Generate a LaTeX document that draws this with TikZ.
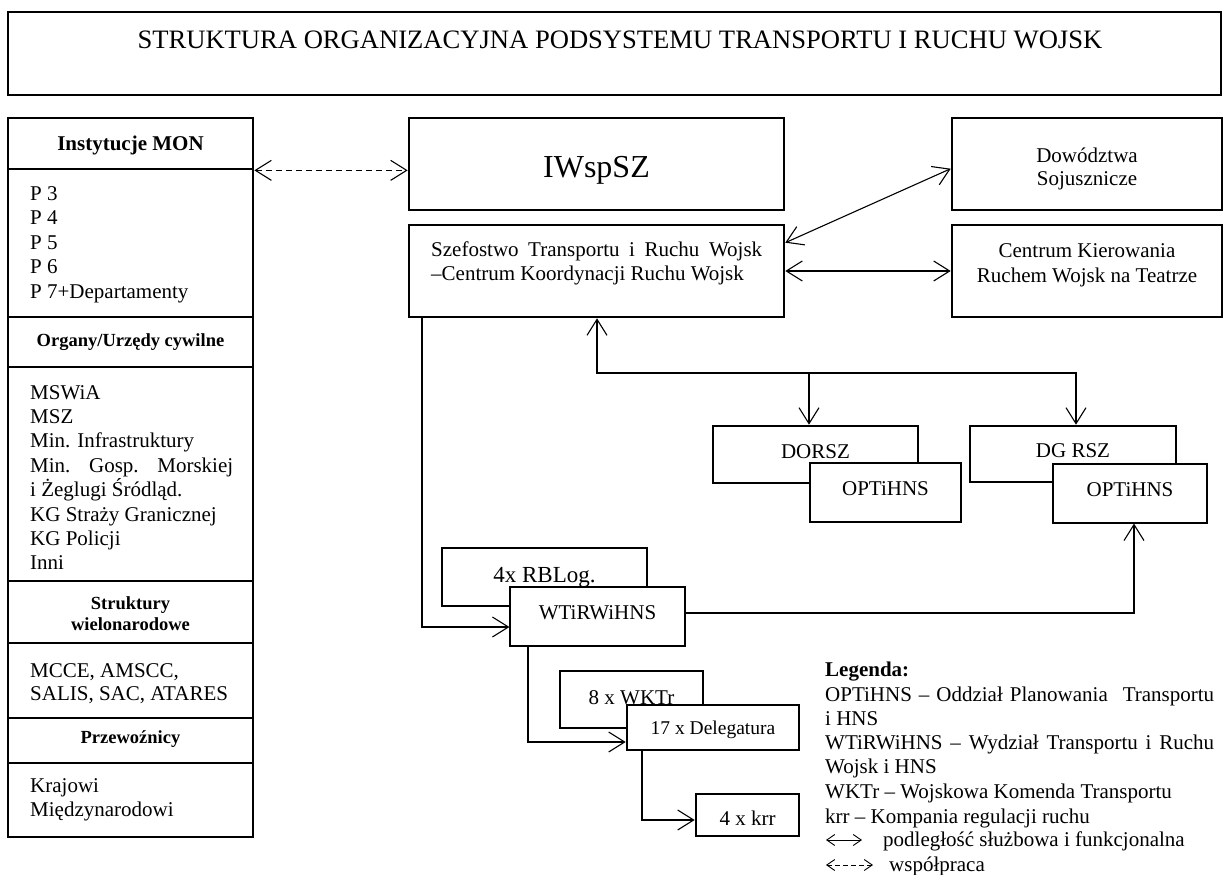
\documentclass[tikz,border=0pt]{standalone}
\usepackage{fontspec}
\setmainfont{Liberation Serif}
\usetikzlibrary{arrows.meta,calc}
\begin{document}
\begin{tikzpicture}[x=1pt,y=-1pt,
  thickbox/.style={draw,line width=2.6pt,rectangle,inner sep=0pt,fill=white,font=\fontsize{21}{24.5}\selectfont,text depth=0pt},
  thinbox/.style={draw,line width=1.1pt,rectangle,inner sep=0pt,fill=white,font=\fontsize{21}{24.5}\selectfont,text depth=0pt},
  colbox/.style={draw,line width=2.7pt,rectangle,inner sep=0pt,minimum width=245pt},
  lt/.style={inner sep=0pt,anchor=base west,font=\fontsize{21}{24.5}\selectfont},
  ct/.style={inner sep=0pt,anchor=base,font=\fontsize{21}{24.5}\selectfont},
  hd/.style={inner sep=0pt,anchor=base,font=\fontsize{18.5}{21}\selectfont\bfseries},
  conn/.style={line width=1.1pt},
  arr/.style={conn,-{Straight Barb[length=16pt,width=20pt]}},
  darr/.style={conn,{Straight Barb[length=16pt,width=20pt]}-{Straight Barb[length=16pt,width=20pt]}},
  sarr/.style={line width=0.9pt,{Straight Barb[length=8pt,width=11pt]}-{Straight Barb[length=8pt,width=11pt]}}
]
\path[use as bounding box] (0,0) rectangle (1224,875);

% title
\node[thickbox,minimum width=1213pt,minimum height=83pt] (title) at (614.5,53.5) {};
\node[ct,font=\fontsize{26.6}{30}\selectfont] (ttl) at (620,49) {STRUKTURA ORGANIZACYJNA PODSYSTEMU TRANSPORTU I RUCHU WOJSK};

% left column
\node[colbox,minimum height=51pt]  (L1) at (130.5,143.5) {};
\node[colbox,minimum height=148pt] (L2) at (130.5,243) {};
\node[colbox,minimum height=50pt]  (L3) at (130.5,342) {};
\node[colbox,minimum height=214pt] (L4) at (130.5,474) {};
\node[colbox,minimum height=62pt]  (L5) at (130.5,612) {};
\node[colbox,minimum height=75pt]  (L6) at (130.5,680.5) {};
\node[colbox,minimum height=45pt]  (L7) at (130.5,740.5) {};
\node[colbox,minimum height=74pt]  (L8) at (130.5,800) {};

\node[hd,font=\fontsize{21}{24.5}\selectfont\bfseries] (h1) at (130.5,150) {Instytucje MON};
\node[lt] (p3) at (30,200) {P 3};
\node[lt] (p4) at (30,224.5) {P 4};
\node[lt] (p5) at (30,249) {P 5};
\node[lt] (p6) at (30,273.5) {P 6};
\node[lt] (p7) at (30,298) {P 7+Departamenty};

\node[hd] (h2) at (130.5,346.5) {Organy/Urzędy cywilne};
\node[lt] (c1) at (30,399) {MSWiA};
\node[lt] (c2) at (30,423.4) {MSZ};
\node[lt] (c3) at (30,447.8) {Min. Infrastruktury};
\node[lt] (c4) at (30,472.2) {\makebox[203pt][s]{Min. Gosp. Morskiej}};
\node[lt] (c5) at (30,496.6) {i Żeglugi Śródląd.};
\node[lt] (c6) at (30,521) {KG Straży Granicznej};
\node[lt] (c7) at (30,545.4) {KG Policji};
\node[lt] (c8) at (30,569.8) {Inni};

\node[hd] (h3a) at (130.5,609) {Struktury};
\node[hd] (h3b) at (130.5,630) {wielonarodowe};
\node[lt] (m1) at (30,677) {MCCE, AMSCC,};
\node[lt] (m2) at (30,700.5) {SALIS, SAC, ATARES};

\node[hd] (h4) at (130.5,743) {Przewoźnicy};
\node[lt] (k1) at (30,792) {Krajowi};
\node[lt] (k2) at (30,816.5) {Międzynarodowi};

% main boxes
\node[thickbox,minimum width=375pt,minimum height=92pt,font=\fontsize{32}{36}\selectfont,text height=27pt] (iw) at (596.5,164) {IWspSZ};
\node[thickbox,minimum width=375pt,minimum height=92pt] (szef) at (596.5,271) {};
\node[lt] (sz1) at (431,256) {\makebox[331pt][s]{Szefostwo Transportu i Ruchu Wojsk}};
\node[lt] (sz2) at (431,280) {–Centrum Koordynacji Ruchu Wojsk};

\node[thickbox,minimum width=270pt,minimum height=92pt] (dow) at (1087,164) {};
\node[ct] (dw1) at (1087,162) {Dowództwa};
\node[ct] (dw2) at (1087,185) {Sojusznicze};

\node[thickbox,minimum width=270pt,minimum height=92pt] (cen) at (1087,271) {};
\node[ct] (ck1) at (1087,257) {Centrum Kierowania};
\node[ct] (ck2) at (1087,282) {Ruchem Wojsk na Teatrze};

\node[thickbox,minimum width=205pt,minimum height=57pt,text height=7pt] (dorsz) at (815.5,454.5) {DORSZ};
\node[thinbox,minimum width=151pt,minimum height=59pt,text height=5pt] (opt1) at (885.5,492.5) {OPTiHNS};
\node[thickbox,minimum width=206pt,minimum height=56pt,text height=7pt] (dgrsz) at (1073,454) {DG RSZ};
\node[thinbox,minimum width=154pt,minimum height=59pt,text height=5pt] (opt2) at (1130,493.5) {OPTiHNS};

\node[thickbox,minimum width=205pt,minimum height=58pt,font=\fontsize{23}{27}\selectfont,text height=11pt] (rblog) at (544.5,577) {4x RBLog.};
\node[thinbox,minimum width=175pt,minimum height=59pt,text height=5pt] (wt) at (597.5,616.5) {WTiRWiHNS};
\node[thickbox,minimum width=143pt,minimum height=57pt,text height=9pt] (wktr) at (631.5,699.5) {8 x WKTr};
\node[thickbox,minimum width=172pt,minimum height=45pt,font=\fontsize{19.5}{23}\selectfont,text height=13pt] (del) at (713,727.5) {17 x Delegatura};
\node[thickbox,minimum width=103pt,minimum height=42pt,text height=20pt] (krr) at (747.5,815) {4 x krr};

% connectors
\draw[darr,dash pattern=on 6pt off 4pt] (L1.south east) -- (iw.west |- L1.south);
\draw[darr] ([yshift=-19pt]szef.north east) -- ([yshift=-52pt]dow.north west);
\draw[darr] (szef.east) -- (cen.west);

\coordinate (jL) at (597,373);
\coordinate (jM) at (809,373);
\coordinate (jR) at (1076,373);
\draw[darr] (jL |- szef.south) -- (jL) -- (jR) -- (jR |- dgrsz.north);
\draw[arr] (jM) -- (jM |- dorsz.north);

\coordinate (a1) at (422,627);
\draw[arr] (a1 |- szef.south) -- (a1) -- (a1 -| wt.west);
\coordinate (a2) at (1134,613);
\draw[arr] (wt.east |- a2) -- (a2) -- (a2 |- opt2.south);
\coordinate (a3) at (528,742);
\draw[arr] (a3 |- wt.south) -- (a3) -- (a3 -| del.west);
\coordinate (a4) at (642,820);
\draw[arr] (a4 |- del.south) -- (a4) -- (a4 -| krr.west);

% legend
\node[lt,font=\fontsize{21}{24.5}\selectfont\bfseries] (lg0) at (825,676) {Legenda:};
\node[lt] (lg1) at (825,701) {\makebox[389pt][s]{OPTiHNS – Oddział Planowania\hspace{8pt} Transportu}};
\node[lt] (lg2) at (825,725) {i HNS};
\node[lt] (lg3) at (825,749) {\makebox[389pt][s]{WTiRWiHNS – Wydział Transportu i Ruchu}};
\node[lt] (lg4) at (825,773) {Wojsk i HNS};
\node[lt] (lg5) at (825,798) {WKTr – Wojskowa Komenda Transportu};
\node[lt] (lg6) at (825,823) {krr – Kompania regulacji ruchu};
\node[lt] (lg7) at (883,846) {podległość służbowa i funkcjonalna};
\node[lt] (lg8) at (889,871) {współpraca};
\coordinate (la1) at (826,840);
\coordinate (la2) at (862,840);
\draw[sarr] (la1) -- (la2);
\coordinate (lb1) at (826,865);
\coordinate (lb2) at (873,865);
\draw[sarr,dash pattern=on 5pt off 3pt] (lb1) -- (lb2);
\end{tikzpicture}
\end{document}
